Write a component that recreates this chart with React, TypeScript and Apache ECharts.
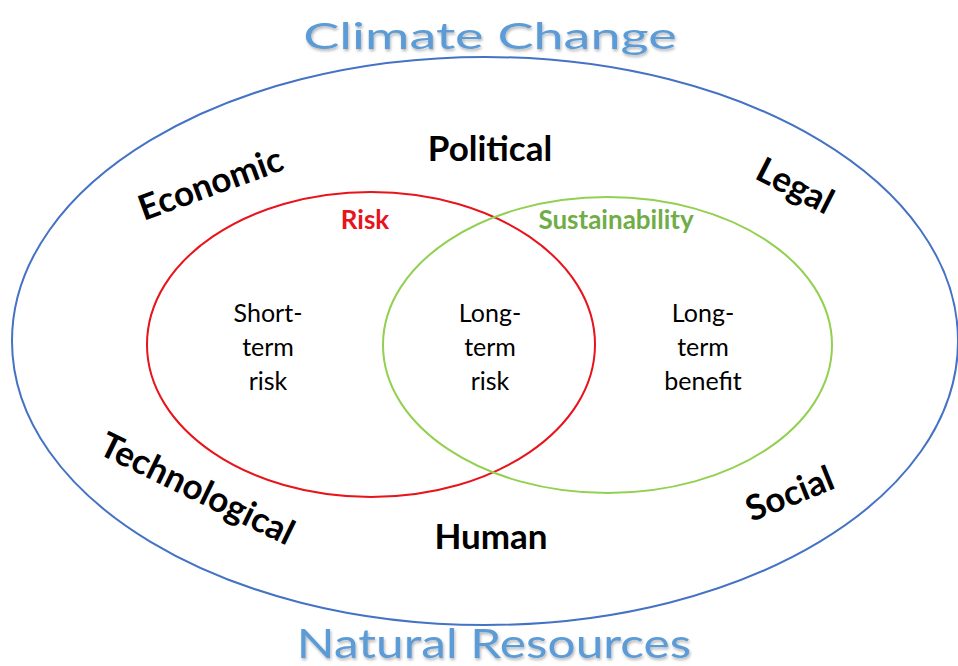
import React, { useEffect, useRef } from "react";
import * as echarts from "echarts";

// Diagram units: one unit equals one pixel of the 958 x 666 canvas (y grows downward)
const ellipseNames = ["Climate Change", "Risk", "Sustainability"];
const ellipseCx = [485, 371, 607.5];
const ellipseCy = [341, 344.5, 345];
const ellipseRx = [473, 224, 224.5];
const ellipseRy = [284, 152.5, 148];
const ellipseColors = ["#4472C4", "#E8141B", "#92D050"];

const titleTexts = ["Climate Change", "Natural Resources"];
const titleX = [490, 494];
const titleY = [35, 642];

const factorTexts = ["Political", "Economic", "Legal", "Technological", "Social", "Human"];
const factorX = [490, 210, 796, 198, 789, 491];
const factorY = [147, 182, 184, 487, 492, 535];
const factorAngle = [0, 20, -27, -26, 22, 0];

const circleLabels = ["Risk", "Sustainability"];
const circleLabelX = [365, 616];
const circleLabelY = [219, 219];

const regionTexts = ["Short-\nterm\nrisk", "Long-\nterm\nrisk", "Long-\nterm\nbenefit"];
const regionX = [268, 490, 703];
const regionY = [346, 346, 346];

const FONT = "Lato, 'Open Sans', sans-serif";

export default function App() {
  const ref = useRef<HTMLDivElement>(null);
  useEffect(() => {
    document.body.style.margin = "0";
    const chart = echarts.init(ref.current!, null, { renderer: "svg" });

    const ellipseData = ellipseNames.map((n, i) => [ellipseCx[i], ellipseCy[i], ellipseRx[i], ellipseRy[i], i]);
    const textData: any[] = [];
    titleTexts.forEach((t, i) => textData.push({ value: [titleX[i], titleY[i]], kind: "title", text: t, angle: 0, idx: i }));
    factorTexts.forEach((t, i) => textData.push({ value: [factorX[i], factorY[i]], kind: "factor", text: t, angle: factorAngle[i] }));
    circleLabels.forEach((t, i) => textData.push({ value: [circleLabelX[i], circleLabelY[i]], kind: "circle", text: t, angle: 0, idx: i + 1 }));
    regionTexts.forEach((t, i) => textData.push({ value: [regionX[i], regionY[i]], kind: "region", text: t, angle: 0 }));

    chart.setOption({
      animation: false,
      backgroundColor: "#ffffff",
      grid: { left: 0, right: 0, top: 0, bottom: 0 },
      xAxis: { type: "value", min: 0, max: 958, show: false },
      yAxis: { type: "value", min: 0, max: 666, inverse: true, show: false },
      series: [
        {
          type: "custom",
          name: "ellipses",
          data: ellipseData,
          renderItem: (params: any, api: any) => {
            const c = api.coord([api.value(0), api.value(1)]);
            const s = api.size([api.value(2), api.value(3)]);
            const idx = api.value(4);
            return {
              type: "ellipse",
              shape: { cx: c[0], cy: c[1], rx: s[0], ry: s[1] },
              style: { fill: "none", stroke: ellipseColors[idx], lineWidth: 2 },
            };
          },
        },
        {
          type: "custom",
          name: "texts",
          data: textData,
          renderItem: (params: any, api: any) => {
            const d = textData[params.dataIndex];
            const c = api.coord(d.value);
            let style: any = { text: d.text, align: "center", verticalAlign: "middle", fontFamily: FONT };
            let scaleX = 1;
            if (d.kind === "title") {
              style = {
                ...style,
                fontSize: d.idx === 0 ? 36 : 41,
                fill: "#5B9BD5",
                textShadowColor: "rgba(0,0,0,0.3)",
                textShadowBlur: 3,
                textShadowOffsetX: 1,
                textShadowOffsetY: 2,
              };
              scaleX = d.idx === 0 ? 1.5 : 1.21;
            } else if (d.kind === "factor") {
              style = { ...style, fontSize: 35, fontWeight: "bold", fill: "#000000" };
            } else if (d.kind === "circle") {
              style = { ...style, fontSize: 26, fontWeight: "bold", fill: d.idx === 1 ? "#E8141B" : "#70AD47" };
            } else {
              style = { ...style, fontSize: 25, lineHeight: 34, fill: "#000000" };
            }
            return {
              type: "text",
              x: c[0],
              y: c[1],
              scaleX,
              rotation: (d.angle * Math.PI) / 180,
              style,
            };
          },
        },
      ],
    });
    return () => chart.dispose();
  }, []);
  return <div ref={ref} style={{ width: 958, height: 666 }} />;
}
